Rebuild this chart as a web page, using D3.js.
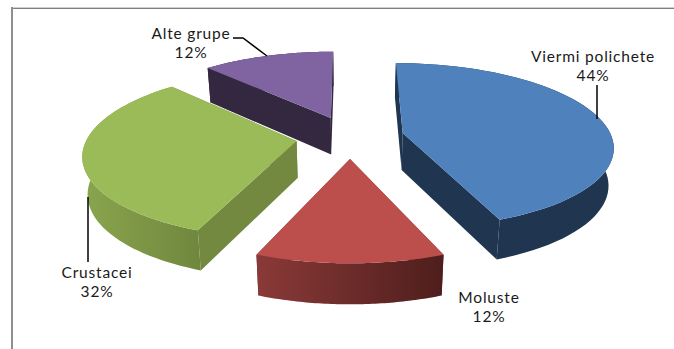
<!DOCTYPE html>
<html>
<head>
  <meta charset="UTF-8" />
  <title>Pie 3D</title>
  <style>
    html, body { margin: 0; padding: 0; background: #fff; }
    svg { display: block; }
    text { font-family: Lato, sans-serif; font-size: 15.5px; letter-spacing: 0.8px; fill: #1a1a1a; text-anchor: middle; }
  </style>
</head>
<body>
  <svg id="chart" width="674" height="349"></svg>
  <script src="https://d3js.org/d3.v7.min.js"></script>
  <script>
    const categories = ["Viermi polichete", "Moluste", "Crustacei", "Alte grupe"];
    const values = [44, 12, 32, 12];
    const topColors = ["#4f81bd", "#bc4f4c", "#9bbb59", "#8064a2"];
    const sideColors = ["#1f3550", "#6a2a28", "#73893f", "#33283f"];
    const wallFrom = ["#1f3550", "#8a3a38", "#8aa54e", "#33283f"];
    const wallTo = ["#1f3550", "#4e1e1c", "#6f873d", "#33283f"];

    // label position + leader line, same order as categories
    const labelPos = [[593, 62], [489, 303], [97, 278], [191, 39]];
    const leaders = [
      [[597, 85], [597, 119]],
      [],
      [[88, 197], [88, 262]],
      [[233, 38], [243, 38], [267, 56]]
    ];

    // projection settings (fake perspective like excel 3D pie)
    const cx = 350, cy = 137, tilt = 0.39, dist = 1400;
    const radius = 209, explode = 54, thick = 37;

    const svg = d3.select("#chart");
    const defs = svg.append("defs");
    const lineGen = d3.line();

    // only the left and top edges of the frame show in the picture
    svg.append("path")
      .attr("d", lineGen([[674, 7.5], [11, 7.5]]))
      .attr("fill", "none").attr("stroke", "#d0d0d0").attr("stroke-width", 1);
    svg.append("path")
      .attr("d", lineGen([[674, 8.5], [12, 8.5]]))
      .attr("fill", "none").attr("stroke", "#7f7f7f").attr("stroke-width", 1);
    svg.append("path")
      .attr("d", lineGen([[12, 7], [12, 349]]))
      .attr("fill", "none").attr("stroke", "#8f8f8f").attr("stroke-width", 2);

    function project(p, lower) {
      const s = dist / (dist + p[1]);
      const x = cx + p[0] * s;
      const y = cy - tilt * p[1] * s;
      if (!lower) return [x, y];
      return [cx + (x - cx) * 0.98, y + thick * Math.sqrt(s)];
    }

    const pie = d3.pie().sort(null).value(d => d);
    const slices = pie(values);

    function face(pts) {
      const top = pts.map(p => project(p, false));
      const bottom = pts.map(p => project(p, true)).reverse();
      return lineGen(top.concat(bottom)) + "Z";
    }

    slices.forEach((d, i) => {
      const grad = defs.append("linearGradient")
        .attr("id", "wall" + i)
        .attr("gradientUnits", "objectBoundingBox");
      grad.append("stop").attr("offset", 0).attr("stop-color", wallFrom[i]);
      grad.append("stop").attr("offset", 1).attr("stop-color", wallTo[i]);
    });

    // back slices first
    const order = d3.range(slices.length).sort((a, b) => {
      const ma = (slices[a].startAngle + slices[a].endAngle) / 2;
      const mb = (slices[b].startAngle + slices[b].endAngle) / 2;
      return Math.cos(mb) - Math.cos(ma);
    });

    order.forEach(i => {
      const d = slices[i];
      const mid = (d.startAngle + d.endAngle) / 2;
      const apex = [explode * Math.sin(mid), explode * Math.cos(mid)];
      const rim = d3.range(0, 61).map(k => {
        const a = d.startAngle + (d.endAngle - d.startAngle) * k / 60;
        return [apex[0] + radius * Math.sin(a), apex[1] + radius * Math.cos(a)];
      });
      const g = svg.append("g");

      // the two straight walls, the one further back goes first
      const edges = [rim[0], rim[60]].sort((a, b) => b[1] - a[1]);
      edges.forEach(e => {
        g.append("path")
          .attr("d", face([apex, e]))
          .attr("fill", sideColors[i]);
      });

      // outer wall
      g.append("path")
        .attr("d", face(rim))
        .attr("fill", `url(#wall${i})`);

      // top of the slice
      g.append("path")
        .attr("d", lineGen([apex].concat(rim).map(p => project(p, false))) + "Z")
        .attr("fill", topColors[i]);
    });

    leaders.forEach(pts => {
      if (!pts.length) return;
      svg.append("path")
        .attr("d", lineGen(pts))
        .attr("fill", "none")
        .attr("stroke", "#000")
        .attr("stroke-width", 1.5);
    });

    categories.forEach((c, i) => {
      const t = svg.append("text")
        .attr("x", labelPos[i][0])
        .attr("y", labelPos[i][1]);
      t.append("tspan").text(c);
      t.append("tspan")
        .attr("x", labelPos[i][0])
        .attr("dy", 19)
        .text(values[i] + "%");
    });
  </script>
</body>
</html>
